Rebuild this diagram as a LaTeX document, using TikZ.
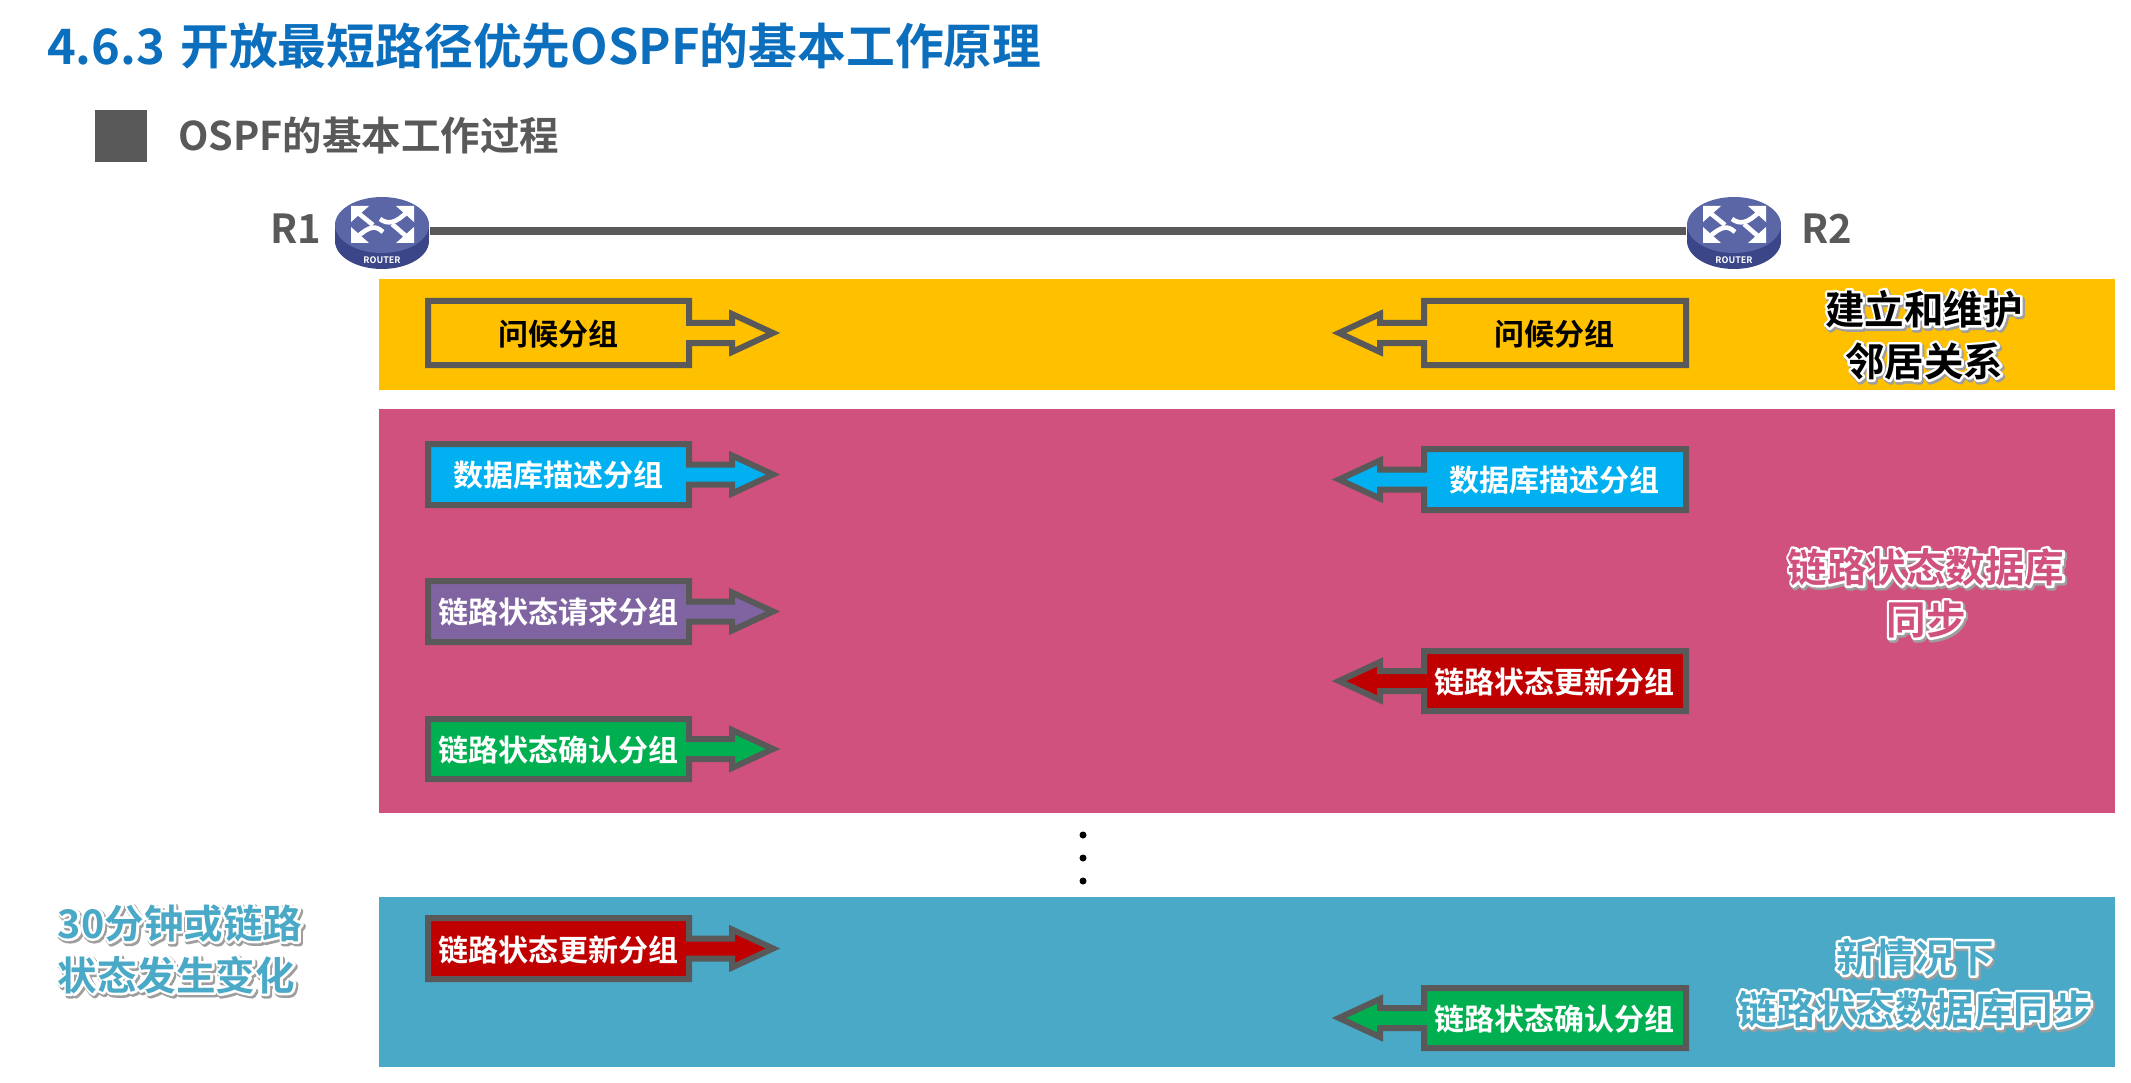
\documentclass[tikz,border=0pt]{standalone}
\usepackage{fontspec}
\usetikzlibrary{shapes.geometric}
\setmainfont{Noto Sans CJK SC}[BoldFont={Noto Sans CJK SC Bold}]
\definecolor{titleblue}{HTML}{0B6FBE}
\definecolor{graytxt}{HTML}{595959}
\definecolor{bandyellow}{HTML}{FFC000}
\definecolor{bandpink}{HTML}{D0517E}
\definecolor{bandteal}{HTML}{4AA9C6}
\definecolor{pktblue}{HTML}{00B0F0}
\definecolor{pktpurple}{HTML}{8064A2}
\definecolor{pktgreen}{HTML}{00B050}
\definecolor{pktred}{HTML}{C00000}
\definecolor{rtop}{HTML}{5A66A6}
\definecolor{rside}{HTML}{3A4688}
% outlined lettering: shadow and white stroke under the fill, all in one node
\newcommand\strokelayer[3]{\special{pdf:code 1 Tr #2 w 1 j #1 RG}#3\special{pdf:code 0 Tr 1 w 0 j}}
\newcommand\halo[1]{\rlap{\raisebox{-2pt}{\kern1.5pt\strokelayer{0.62 0.62 0.62}{6}{#1}}}\rlap{\strokelayer{1 1 1}{5}{#1}}#1}
\tikzset{
  band/.style={fill=#1,draw=none},
  pktshape/.style={draw=graytxt,line width=6pt,line join=miter,fill=#1},
  pkttext/.style={font=\bfseries\fontsize{30}{34}\selectfont,text=white,inner sep=0pt},
  sidelabel/.style={font=\bfseries\fontsize{39.5}{52}\selectfont,text=#1,align=center,inner sep=0pt},
  routerbody/.style={ellipse,minimum width=95pt,minimum height=72pt,inner sep=0pt},
  routerglyph/.style={white,line width=4.6pt},
  heading/.style={font=\bfseries\fontsize{#1}{#1}\selectfont,inner sep=0pt,anchor=west},
  linkline/.style={draw=graytxt,line width=8pt},
  dotmark/.style={circle,fill=black,inner sep=0pt,minimum size=7pt}
}
\begin{document}
\begin{tikzpicture}[x=1pt,y=-1pt]
\useasboundingbox (0,0) rectangle (2131,1083);
\fill[white] (0,0) rectangle (2131,1083);
\node[heading=48.8,text=titleblue] (title) at (47,46) {4.6.3\kern4pt\ 开放最短路径优先OSPF的基本工作原理};
\fill[graytxt] (95,110) rectangle (147,162);
\node[heading=39.5,text=graytxt] (sub) at (178,135) {OSPF的基本工作过程};

\fill[band=bandyellow] (379,279) rectangle (2115,390);
\fill[band=bandpink] (379,409) rectangle (2115,813);
\fill[band=bandteal] (379,897) rectangle (2115,1067);

\node[routerbody] (r1) at (382,231) {};
\node[routerbody] (r2) at (1734,231) {};
\draw[linkline] (r1) -- (r2);
\foreach \rn in {r1,r2}{
\begin{scope}[shift={(\rn.center)},yshift=-2pt]
  \fill[rside] (0,8) ellipse[x radius=47,y radius=28];
  \fill[rside] (-47,-8) rectangle (47,8);
  \fill[rtop] (0,-8) ellipse[x radius=47,y radius=28];
  \begin{scope}[shift={(0,-8)}]
    \fill[white] (-31,-19) -- (-13,-19) -- (-31,-3) -- cycle;
    \draw[routerglyph] (-25,-13) -- (-9,0);
    \fill[white] (32,-19) -- (14,-19) -- (32,-3) -- cycle;
    \draw[routerglyph] (-2,-6) .. controls (6,0) and (14,-2) .. (25,-13);
    \fill[white] (-31,18) -- (-13,18) -- (-31,2) -- cycle;
    \draw[routerglyph] (-25,12) .. controls (-12,1) and (-7,0) .. (1,7);
    \fill[white] (32,18) -- (14,18) -- (32,2) -- cycle;
    \draw[routerglyph] (25,12) -- (10,-1);
  \end{scope}
  \node[inner sep=0pt,text=white,font=\bfseries\fontsize{9}{9}\selectfont] (\rn lbl) at (0,27) {ROUTER};
\end{scope}}
\node[font=\bfseries\fontsize{40}{40}\selectfont,text=graytxt,inner sep=0pt] (r1name) at (296,229) {R1};
\node[font=\bfseries\fontsize{40}{40}\selectfont,text=graytxt,inner sep=0pt] (r2name) at (1827,229) {R2};

% rightward packets
\foreach \ya/\yb/\fc in {301/365/bandyellow,444/505/pktblue,581/642/pktpurple,719/779/pktgreen,918/979/pktred}{
  \draw[pktshape=\fc] (428,\ya) -- (689,\ya) -- (689,{(\ya+\yb)/2-10}) -- (732,{(\ya+\yb)/2-10}) -- (732,{(\ya+\yb)/2-19}) -- (773,{(\ya+\yb)/2}) -- (732,{(\ya+\yb)/2+19}) -- (732,{(\ya+\yb)/2+10}) -- (689,{(\ya+\yb)/2+10}) -- (689,\yb) -- (428,\yb) -- cycle;
}
% leftward packets
\foreach \ya/\yb/\fc in {301/365/bandyellow,449/510/pktblue,651/711/pktred,988/1048/pktgreen}{
  \draw[pktshape=\fc] (1686,\ya) -- (1424,\ya) -- (1424,{(\ya+\yb)/2-10}) -- (1380,{(\ya+\yb)/2-10}) -- (1380,{(\ya+\yb)/2-19}) -- (1339,{(\ya+\yb)/2}) -- (1380,{(\ya+\yb)/2+19}) -- (1380,{(\ya+\yb)/2+10}) -- (1424,{(\ya+\yb)/2+10}) -- (1424,\yb) -- (1686,\yb) -- cycle;
}
\node[pkttext,text=black] (a1) at (558,334) {问候分组};
\node[pkttext] (a2) at (558,475) {数据库描述分组};
\node[pkttext] (a3) at (558,612) {链路状态请求分组};
\node[pkttext] (a4) at (558,750) {链路状态确认分组};
\node[pkttext] (a5) at (558,950) {链路状态更新分组};
\node[pkttext,text=black] (b1) at (1554,334) {问候分组};
\node[pkttext] (b2) at (1554,480) {数据库描述分组};
\node[pkttext] (b3) at (1554,682) {链路状态更新分组};
\node[pkttext] (b4) at (1554,1019) {链路状态确认分组};

\node[sidelabel=black] (s1) at (1924,336) {\halo{建立和维护}\\\halo{邻居关系}};
\node[sidelabel=bandpink] (s2) at (1926,594) {\halo{链路状态数据库}\\\halo{同步}};
\node[sidelabel=bandteal] (s3) at (1915,984) {\halo{新情况下}\\\halo{链路状态数据库同步}};
\node[sidelabel=bandteal,align=left] (s4) at (180,950) {\halo{30分钟或链路}\\\halo{状态发生变化}};

\node[dotmark] (d1) at (1083,835) {};
\node[dotmark] (d2) at (1083,858) {};
\node[dotmark] (d3) at (1083,881) {};
\end{tikzpicture}
\end{document}
